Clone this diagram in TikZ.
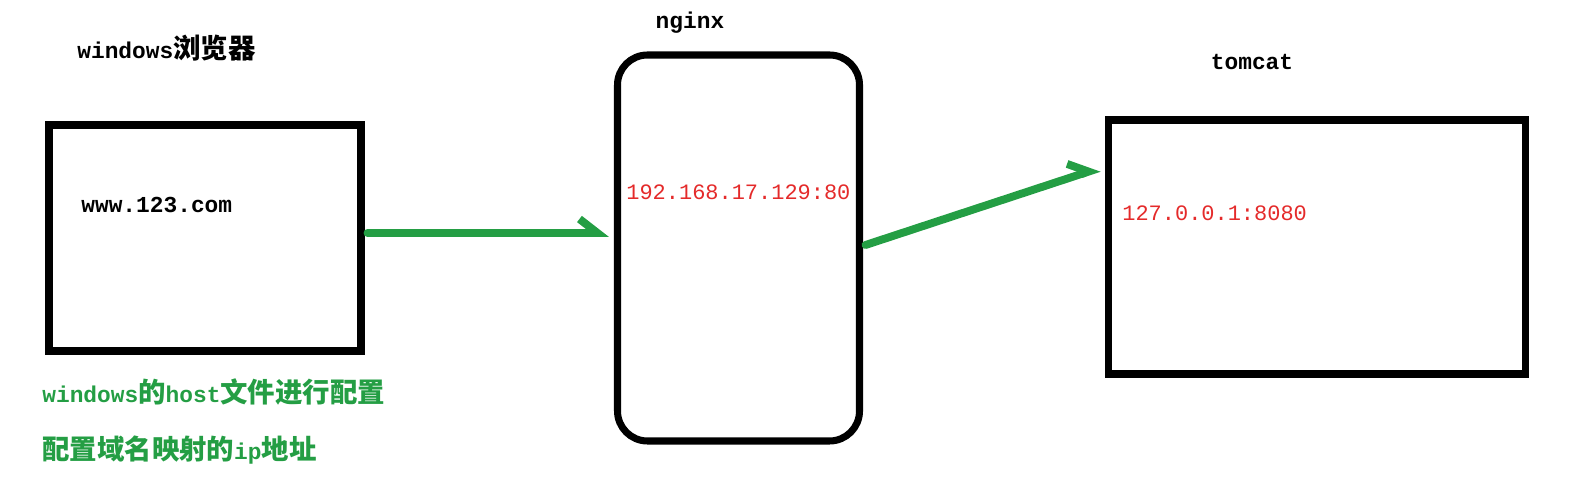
\documentclass[tikz,border=0pt]{standalone}
\usepackage{fontspec}
\setmonofont{Liberation Mono}
\newfontfamily\cjk[Scale=1.2]{Noto Sans CJK SC}
\usetikzlibrary{arrows.meta}
\definecolor{vert}{RGB}{36,158,68}
\definecolor{iprouge}{RGB}{228,42,42}

\begin{document}
\begin{tikzpicture}
\tikzset{boite/.style={draw, line width=4pt, inner sep=0pt},
titre/.style={font=\ttfamily\bfseries\fontsize{13pt}{15pt}\selectfont, inner sep=0pt},
adresse/.style={font=\ttfamily\fontsize{12.5pt}{15pt}\selectfont, text=iprouge, anchor=west, inner sep=0pt},
note/.style={titre, text=vert, anchor=west},
fleche/.style={draw=vert, line width=4.5pt, line cap=round, -{Straight Barb[harpoon, length=0.36cm, width=0.56cm]}}}
\useasboundingbox (0, 0) rectangle (31.84, 9.96);
\node[boite, minimum width=6.24cm, minimum height=4.52cm] (Win) at (4.10, 5.20) {};
\node[boite, rounded corners=0.6cm, minimum width=4.84cm, minimum height=7.72cm] (Ngx) at (14.77, 5.00) {};
\node[boite, minimum width=8.34cm, minimum height=5.08cm] (Tom) at (26.33, 5.02) {};
\node[titre, anchor=west] (WinT) at (1.54, 9.00) {windows{\cjk 浏览器}};
\node[titre] (NgxT) at (13.80, 9.50) {nginx};
\node[titre] (TomT) at (25.04, 8.72) {tomcat};
\node[titre, anchor=west] (Url) at (1.62, 5.86) {www.123.com};
\node[adresse] (NgxIP) at (12.52, 6.12) {192.168.17.129:80};
\node[adresse] (TomIP) at (22.44, 5.70) {127.0.0.1:8080};
\node[note] (Host) at (0.84, 2.12) {windows{\cjk 的}host{\cjk 文件进行配置}};
\node[note] (Dns) at (0.84, 0.96) {{\cjk 配置域名映射的}ip{\cjk 地址}};
\draw[fleche] ([xshift=0.06cm, yshift=0.1cm]Win.east) -- ([xshift=-0.1cm, yshift=0.3cm]Ngx.west);
\draw[fleche] ([xshift=0.05cm, yshift=0.06cm]Ngx.east) -- ([xshift=-0.1cm, yshift=1.58cm]Tom.west);
\end{tikzpicture}
\end{document}
